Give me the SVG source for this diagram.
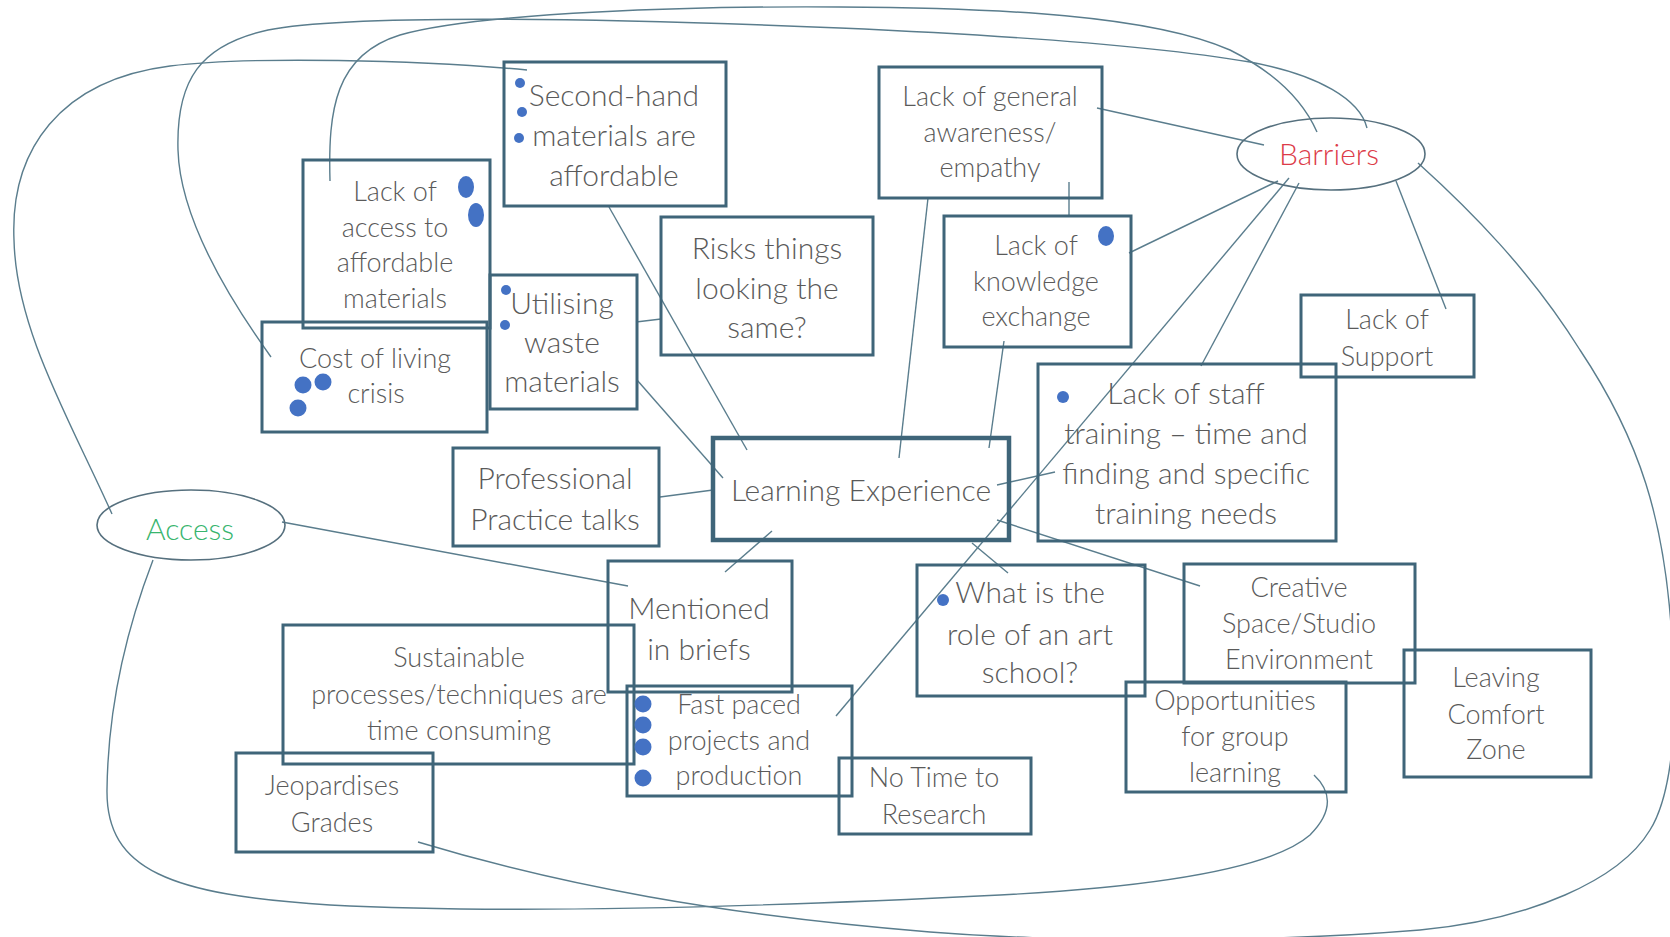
<svg xmlns="http://www.w3.org/2000/svg" width="1670" height="937" viewBox="0 0 1670 937">
  <style>
    .bg { fill: #ffffff; }
    .box { fill: none; stroke: #3f6579; stroke-width: 3; }
    .box.main { stroke-width: 4.5; }
    .ell { fill: none; stroke: #56707e; stroke-width: 1.6; }
    .c { fill: none; stroke: #5a7d8d; stroke-width: 1.4; }
    .t { font-family: Lato, "Open Sans", "Liberation Sans", sans-serif; font-weight: 300; fill: #5a5a5a; text-anchor: middle; }
    .lg { font-size: 30px; }
    .md { font-size: 27px; }
    .red { fill: #dc3b48; }
    .green { fill: #38b56e; }
    .dot { fill: #4472c4; }
  </style>

  <rect class="bg" x="0" y="0" width="1670" height="937"/>

  <!-- connectors -->
  <g id="connectors">
    <path class="c" d="M527,70 C420,60 250,56 170,66 C60,80 10,150 14,240 C16,330 70,420 112,514"/>
    <path class="c" d="M330,181 C328,110 335,55 400,35 C480,12 700,6 840,7 C1000,8 1150,15 1230,50 C1280,75 1305,105 1317,132"/>
    <path class="c" d="M271,357 C230,300 180,220 178,150 C176,80 200,45 268,30 C350,14 600,18 840,28 C1000,35 1150,45 1250,62 C1320,75 1360,100 1367,128"/>
    <path class="c" d="M609,207 L747,450"/>
    <path class="c" d="M636,322 L661,319"/>
    <path class="c" d="M637,380 L723,478"/>
    <path class="c" d="M660,497 L713,490"/>
    <path class="c" d="M772,531 L725,572"/>
    <path class="c" d="M282,522 L628,586"/>
    <path class="c" d="M153,560 C130,620 108,700 107,790 C106,870 170,895 330,905 C520,915 800,905 1000,895 C1150,887 1270,870 1310,835 C1335,810 1330,790 1314,775"/>
    <path class="c" d="M418,842 C560,885 720,915 930,932 C1100,945 1300,940 1420,930 C1530,920 1620,880 1650,830 C1675,790 1678,700 1672,640 C1665,520 1640,440 1580,350 C1530,270 1470,210 1418,163"/>
    <path class="c" d="M1097,108 L1264,145"/>
    <path class="c" d="M1069,182 L1069,217"/>
    <path class="c" d="M928,198 L899,458"/>
    <path class="c" d="M1004,341 L989,448"/>
    <path class="c" d="M1278,181 L1129,253"/>
    <path class="c" d="M1289,178 L836,716"/>
    <path class="c" d="M1299,183 L1201,366"/>
    <path class="c" d="M1396,181 L1446,309"/>
    <path class="c" d="M997,485 L1055,472"/>
    <path class="c" d="M997,520 L1200,586"/>
    <path class="c" d="M972,543 L1008,573"/>
  </g>

  <g id="second-hand">
    <rect class="box" x="504" y="62" width="222" height="144"/>
    <circle class="dot" cx="520" cy="83" r="5"/>
    <circle class="dot" cx="522" cy="112" r="5"/>
    <circle class="dot" cx="519" cy="138" r="5"/>
    <text class="t lg" x="614" y="106">Second-hand</text>
    <text class="t lg" x="614" y="146">materials are</text>
    <text class="t lg" x="614" y="186">affordable</text>
  </g>

  <g id="lack-access">
    <rect class="box" x="303" y="160" width="187" height="168"/>
    <ellipse class="dot" cx="466" cy="187" rx="8" ry="11"/>
    <ellipse class="dot" cx="476" cy="215" rx="8" ry="12"/>
    <text class="t md" x="395" y="201">Lack of</text>
    <text class="t md" x="395" y="237">access to</text>
    <text class="t md" x="395" y="272">affordable</text>
    <text class="t md" x="395" y="308">materials</text>
  </g>

  <g id="cost-of-living">
    <rect class="box" x="262" y="322" width="225" height="110"/>
    <circle class="dot" cx="303" cy="385" r="8.5"/>
    <circle class="dot" cx="323" cy="382" r="8.5"/>
    <circle class="dot" cx="298" cy="408" r="8.5"/>
    <text class="t md" x="375" y="368">Cost of  living</text>
    <text class="t md" x="376" y="403">crisis</text>
  </g>

  <g id="utilising">
    <rect class="box" x="490" y="275" width="147" height="134"/>
    <circle class="dot" cx="506" cy="290" r="5"/>
    <circle class="dot" cx="505" cy="325" r="5"/>
    <text class="t lg" x="562" y="314">Utilising</text>
    <text class="t lg" x="562" y="353">waste</text>
    <text class="t lg" x="562" y="392">materials</text>
  </g>

  <g id="risks">
    <rect class="box" x="661" y="217" width="212" height="138"/>
    <text class="t lg" x="767" y="259">Risks things</text>
    <text class="t lg" x="767" y="299">looking the</text>
    <text class="t lg" x="767" y="338">same?</text>
  </g>

  <g id="general-awareness">
    <rect class="box" x="879" y="67" width="223" height="131"/>
    <text class="t md" x="990" y="106">Lack of  general</text>
    <text class="t md" x="990" y="142">awareness/</text>
    <text class="t md" x="990" y="177">empathy</text>
  </g>

  <g id="knowledge-exchange">
    <rect class="box" x="944" y="216" width="187" height="131"/>
    <ellipse class="dot" cx="1106" cy="236" rx="8" ry="10"/>
    <text class="t md" x="1036" y="255">Lack of</text>
    <text class="t md" x="1036" y="291">knowledge</text>
    <text class="t md" x="1036" y="326">exchange</text>
  </g>

  <g id="barriers">
    <ellipse class="ell" cx="1331" cy="154" rx="94" ry="36"/>
    <text class="t lg red" x="1329" y="165">Barriers</text>
  </g>

  <g id="lack-support">
    <rect class="box" x="1301" y="295" width="173" height="82"/>
    <text class="t md" x="1387" y="329">Lack of</text>
    <text class="t md" x="1387" y="366">Support</text>
  </g>

  <g id="staff-training">
    <rect class="box" x="1038" y="364" width="298" height="177"/>
    <circle class="dot" cx="1063" cy="397" r="6"/>
    <text class="t lg" x="1186" y="404">Lack of staff</text>
    <text class="t lg" x="1186" y="444">training – time and</text>
    <text class="t lg" x="1186" y="484">finding and specific</text>
    <text class="t lg" x="1186" y="524">training needs</text>
  </g>

  <g id="learning-experience">
    <rect class="box main" x="713" y="438" width="296" height="102"/>
    <text class="t lg" x="861" y="501">Learning Experience</text>
  </g>

  <g id="professional-practice">
    <rect class="box" x="453" y="448" width="206" height="98"/>
    <text class="t lg" x="555" y="489">Professional</text>
    <text class="t lg" x="555" y="530">Practice talks</text>
  </g>

  <g id="access">
    <ellipse class="ell" cx="191" cy="525" rx="94" ry="35"/>
    <text class="t lg green" x="190" y="540">Access</text>
  </g>

  <g id="mentioned-briefs">
    <rect class="box" x="608" y="561" width="184" height="131"/>
    <text class="t lg" x="699" y="619">Mentioned</text>
    <text class="t lg" x="699" y="660">in briefs</text>
  </g>

  <g id="sustainable-processes">
    <rect class="box" x="283" y="625" width="351" height="139"/>
    <text class="t md" x="459" y="667">Sustainable</text>
    <text class="t md" x="459" y="704">processes/techniques are</text>
    <text class="t md" x="459" y="740">time consuming</text>
  </g>

  <g id="jeopardises-grades">
    <rect class="box" x="236" y="753" width="197" height="99"/>
    <text class="t md" x="332" y="795">Jeopardises</text>
    <text class="t md" x="332" y="832">Grades</text>
  </g>

  <g id="fast-paced">
    <rect class="box" x="627" y="686" width="225" height="110"/>
    <circle class="dot" cx="643" cy="704" r="8.5"/>
    <circle class="dot" cx="643" cy="725" r="8.5"/>
    <circle class="dot" cx="643" cy="747" r="8.5"/>
    <circle class="dot" cx="643" cy="778" r="8.5"/>
    <text class="t md" x="739" y="714">Fast paced</text>
    <text class="t md" x="739" y="750">projects and</text>
    <text class="t md" x="739" y="785">production</text>
  </g>

  <g id="no-time">
    <rect class="box" x="839" y="758" width="192" height="76"/>
    <text class="t md" x="934" y="787">No Time to</text>
    <text class="t md" x="934" y="824">Research</text>
  </g>

  <g id="art-school-role">
    <rect class="box" x="917" y="565" width="228" height="131"/>
    <circle class="dot" cx="943" cy="600" r="6"/>
    <text class="t lg" x="1030" y="603">What is the</text>
    <text class="t lg" x="1030" y="645">role of  an art</text>
    <text class="t lg" x="1030" y="683">school?</text>
  </g>

  <g id="creative-space">
    <rect class="box" x="1184" y="564" width="231" height="119"/>
    <text class="t md" x="1299" y="597">Creative</text>
    <text class="t md" x="1299" y="633">Space/Studio</text>
    <text class="t md" x="1299" y="669">Environment</text>
  </g>

  <g id="group-learning">
    <rect class="box" x="1126" y="682" width="220" height="110"/>
    <text class="t md" x="1235" y="710">Opportunities</text>
    <text class="t md" x="1235" y="746">for group</text>
    <text class="t md" x="1235" y="782">learning</text>
  </g>

  <g id="comfort-zone">
    <rect class="box" x="1404" y="650" width="187" height="127"/>
    <text class="t md" x="1496" y="687">Leaving</text>
    <text class="t md" x="1496" y="724">Comfort</text>
    <text class="t md" x="1496" y="759">Zone</text>
  </g>
</svg>
